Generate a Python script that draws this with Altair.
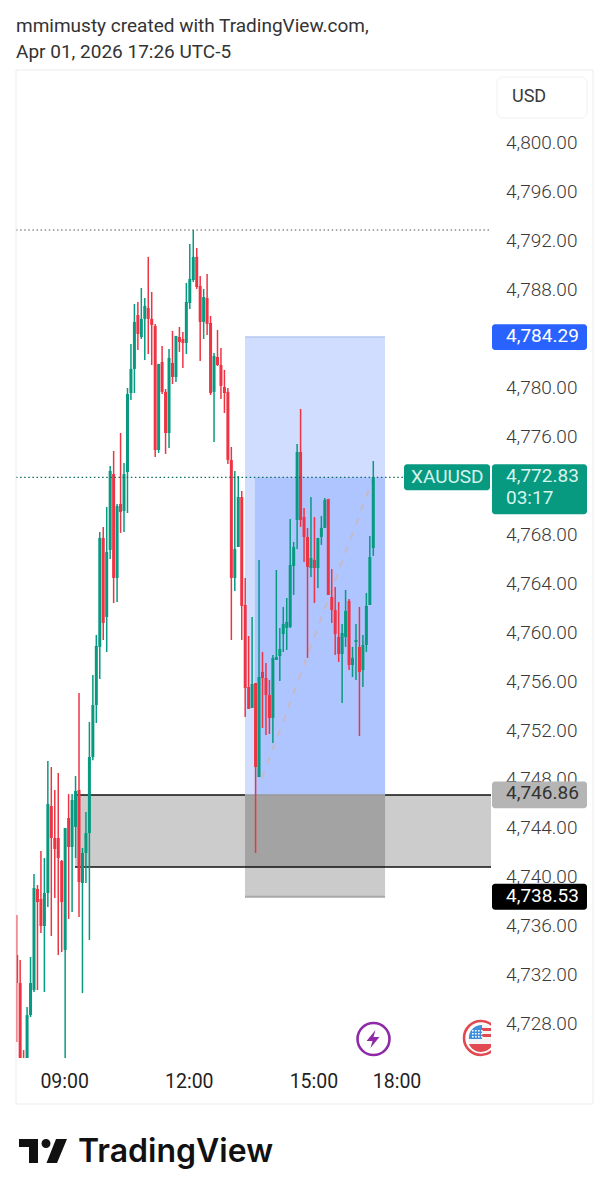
import json
import altair as alt
import pandas as pd

# --- candle values (price) ---
opens = [4733.77,4731.48,4725.2,4725.0,4728.86,4730.91,4739.17,4738.35,4736.14,4738.84,
4745.95,4743.34,4743.34,4741.46,4734.18,4744.97,4742.60,4744.24,4747.26,4739.66,
4742.11,4743.75,4749.96,4754.21,4758.96,4767.87,4761.41,4766.89,4773.10,4764.60,
4770.65,4770.08,4773.26,4779.72,4781.69,4786.10,4784.30,4785.78,4786.67,4785.78,
4785.20,4775.06,4782.26,4779.81,4776.45,4782.18,4781.03,4784.30,4784.14,4783.81,
4787.08,4788.96,4790.85,4788.47,4785.53,4787.49,4785.45,4779.81,4782.67,4782.01,
4780.21,4779.81,4774.25,4764.60,4767.13,4771.22,4762.39,4755.68,4753.97,4756.01,
4748.32,4756.91,4756.42,4755.03,4753.15,4757.89,4758.22,4760.02,4760.51,4760.59,
4765.58,4769.34,4774.90,4769.58,4767.95,4765.41,4766.07,4765.41,4767.95,4768.69,
4771.06,4763.04,4761.98,4759.77,4758.38,4759.77,4762.72,4757.48,4759.36,4758.96,
4757.07,4759.12,4762.39,4767.05]
highs = [4737.04,4733.36,4726.0,4729.52,4733.61,4740.39,4739.49,4742.27,4741.70,4749.63,
4749.14,4747.26,4748.65,4741.54,4744.15,4746.93,4746.93,4748.41,4755.19,4742.52,
4745.46,4752.82,4756.67,4759.94,4768.36,4768.77,4770.40,4773.76,4774.98,4770.65,
4776.45,4774.00,4780.13,4783.73,4787.00,4787.17,4788.31,4787.49,4790.85,4787.98,
4785.37,4782.10,4783.57,4780.05,4783.32,4784.79,4784.39,4785.12,4784.71,4788.72,
4791.91,4793.05,4791.58,4789.29,4788.23,4789.46,4786.02,4783.00,4784.88,4783.40,
4781.61,4780.13,4775.31,4773.35,4772.94,4771.71,4764.60,4759.85,4761.41,4756.01,
4766.07,4758.55,4757.65,4756.26,4758.30,4765.25,4760.51,4762.23,4762.96,4769.42,
4767.54,4775.55,4778.42,4770.32,4768.69,4771.22,4769.58,4767.87,4769.67,4771.14,
4771.06,4765.33,4763.86,4762.63,4760.84,4763.62,4762.88,4758.96,4760.84,4762.23,
4759.94,4763.37,4768.03,4774.16]
lows = [4726.66,4725.35,4725.0,4725.0,4728.70,4730.74,4730.91,4735.57,4730.74,4737.69,
4735.32,4738.43,4733.77,4734.01,4725.0,4736.71,4737.29,4741.70,4736.88,4730.66,
4739.66,4735.00,4749.70,4752.74,4756.34,4759.53,4758.55,4766.15,4762.55,4762.63,
4768.28,4768.36,4769.91,4779.15,4779.72,4783.24,4784.14,4782.42,4782.91,4782.01,
4774.49,4774.82,4779.64,4774.74,4775.23,4780.46,4780.62,4783.08,4781.77,4782.91,
4786.59,4788.80,4788.23,4782.34,4784.14,4784.47,4779.56,4775.72,4781.93,4779.23,
4778.09,4773.92,4759.53,4763.53,4767.13,4759.53,4753.23,4753.89,4753.97,4742.11,
4748.32,4752.33,4751.76,4751.84,4751.10,4757.89,4756.17,4758.55,4758.71,4760.51,
4763.21,4766.97,4768.77,4765.91,4758.06,4764.68,4762.55,4763.78,4767.30,4768.69,
4763.21,4760.92,4758.30,4757.73,4754.38,4758.96,4757.07,4756.50,4756.26,4751.68,
4755.68,4758.55,4762.39,4766.40]
closes = [4731.48,4725.35,4725.0,4728.86,4731.48,4739.25,4738.10,4736.14,4738.84,4746.12,
4743.34,4742.44,4741.70,4738.10,4744.15,4742.60,4746.44,4747.18,4739.74,4742.11,
4743.75,4749.96,4754.21,4759.04,4767.87,4760.92,4766.72,4773.35,4764.60,4770.48,
4769.99,4773.10,4779.64,4781.69,4785.53,4784.55,4785.78,4786.84,4785.78,4785.28,
4775.06,4782.10,4779.81,4776.45,4782.59,4781.03,4784.39,4783.89,4783.81,4787.17,
4789.05,4790.85,4788.39,4785.53,4787.57,4785.37,4779.72,4782.75,4782.01,4780.30,
4779.72,4774.25,4764.60,4766.97,4771.22,4762.31,4755.60,4753.89,4755.93,4749.14,
4756.50,4756.42,4755.03,4753.15,4758.06,4758.14,4758.79,4760.84,4761.00,4765.66,
4767.13,4774.90,4769.34,4767.95,4765.50,4766.23,4765.41,4767.87,4768.69,4770.97,
4763.21,4761.98,4760.02,4758.38,4760.10,4761.90,4757.48,4758.06,4759.53,4756.91,
4759.12,4762.31,4766.31,4772.83]

y_ticks = [4728, 4732, 4736, 4740, 4744, 4748, 4752, 4756, 4760, 4764, 4768, 4776, 4780, 4788, 4792, 4796, 4800]
x_tick_slots = [14, 50, 86, 110]
x_tick_labels = ["09:00", "12:00", "15:00", "18:00"]

entry_top = 4784.29
last_price = 4772.83
entry_price = 4746.86
zone_low = 4740.96
stop_price = 4738.53
day_high = 4793.05
slot_a, slot_b, slot_c = 65.94, 68.8, 106.4
zone_start = 16.84
diagonal_slots = [70.9, 103]
diagonal_prices = [4748.24, 4772.85]

GREEN = "#089981"
RED = "#ee3444"
X_DOMAIN = [-0.2, 137]
Y_DOMAIN = [4725.35, 4806.13]

xs = alt.Scale(domain=X_DOMAIN, nice=False, zero=False, padding=0)
ys = alt.Scale(domain=Y_DOMAIN, nice=False, zero=False, padding=0)
BLANK = alt.Data(values=[{}])

axis_y = alt.Axis(values=y_ticks, orient="right", format=",.2f", grid=False, ticks=False, domain=False,
                  labelFont="Roboto", labelFontSize=19, labelColor="#3a3a3a", labelFontWeight=300,
                  labelPadding=14.5, labelOffset=-2, labelAlign="left", title=None)
label_map = json.dumps({str(k): v for k, v in zip(x_tick_slots, x_tick_labels)})
axis_x = alt.Axis(values=x_tick_slots, labelExpr=f"{label_map}[datum.value]", grid=False, ticks=False,
                  domain=False, labelFont="Roboto", labelFontSize=19.5, labelColor="#1f1f1f",
                  labelFontWeight=400, labelPadding=14.5, labelOffset=-1, labelAngle=0, title=None)


def X(f):
    return alt.X(f, type="quantitative", scale=xs, axis=axis_x, title=None)


def Y(f):
    return alt.Y(f, type="quantitative", scale=ys, axis=axis_y, title=None)


def band(a, b, top, bottom, color):
    d = pd.DataFrame([{"a": a, "b": b, "t": top, "u": bottom}])
    return alt.Chart(d).mark_rect(color=color, clip=True).encode(
        x=X("a"), x2="b", y=Y("t"), y2="u")


def hline(a, b, price, color, width=1.0, dash=None):
    kw = {"strokeDash": dash} if dash else {}
    d = pd.DataFrame([{"a": a, "b": b, "p": price}])
    return alt.Chart(d).mark_rule(color=color, strokeWidth=width, clip=True, **kw).encode(
        x=X("a"), x2="b", y=Y("p"))


def txt(label, px, py, size=18, color="#3a3a3a", weight=400, font="Roboto", align="left"):
    return alt.Chart(BLANK).mark_text(
        font=font, fontSize=size, color=color, fontWeight=weight, align=align, baseline="middle"
    ).encode(x=alt.value(px - 16), y=alt.value(py - 70), text=alt.value(label))


def tag(x0, x1, top, bottom, color):
    d = pd.DataFrame([{"t": top, "u": bottom}])
    return alt.Chart(d).mark_rect(color=color, cornerRadius=3).encode(
        x=alt.value(x0 - 16), x2=alt.value(x1 - 16), y=Y("t"), y2="u")


def tag_text(label, px, price, color, dy=0, size=19, weight=400):
    d = pd.DataFrame([{"p": price, "l": label}])
    return alt.Chart(d).mark_text(
        font="Roboto", fontSize=size, color=color, fontWeight=weight, align="left",
        baseline="middle", dy=dy
    ).encode(x=alt.value(px - 16), y=Y("p"), text="l:N")


def icon(path, px, py, fill=None, stroke=None, sw=0, clip=True):
    kw = dict(shape=path, size=4, opacity=1, clip=clip, strokeWidth=sw)
    if fill:
        kw.update(filled=True, fill=fill, stroke=stroke or "transparent")
    else:
        kw.update(filled=False, stroke=stroke, fill="transparent")
    return alt.Chart(BLANK).mark_point(**kw).encode(
        x=alt.value(px - 16), y=alt.value(py - 70))


def disc(r):
    return f"M{-r},0A{r},{r},0,1,1,{r},0A{r},{r},0,1,1,{-r},0Z"


candles = pd.DataFrame({"i": range(len(opens)), "o": opens, "h": highs, "l": lows, "c": closes})
candles["dir"] = ["up" if c >= o else "down" for o, c in zip(opens, closes)]
colour = alt.Color("dir:N", scale=alt.Scale(domain=["up", "down"], range=[GREEN, RED]), legend=None)

wicks = alt.Chart(candles).mark_rule(strokeWidth=1.5, clip=True).encode(
    x=X("i"), y=Y("l"), y2="h:Q", color=colour)
bodies = alt.Chart(candles).mark_bar(size=3, clip=True).encode(
    x=X("i"), y=Y("o"), y2="c:Q", color=colour)

diag = pd.DataFrame({"i": diagonal_slots, "p": diagonal_prices})
diagonal = alt.Chart(diag).mark_line(color="#c7b9c6", strokeWidth=2, strokeDash=[7, 8], clip=True).encode(
    x=X("i"), y=Y("p"))

usd_box = alt.Chart(BLANK).mark_rect(fill="white", stroke="#f0f0f0", strokeWidth=1, cornerRadius=6).encode(
    x=alt.value(497 - 16), x2=alt.value(587 - 16), y=alt.value(77 - 70), y2=alt.value(118 - 70))

canton_dots = "".join(f"M{x},{y}h1.6v1.6h-1.6Z" for x in (-9, -6, -3, 0) for y in (-8, -5, -2))
flag_stripes = "M1,-10h9v3h-9ZM1,-4h11v3h-11ZM-12,6h24A13,13,0,0,1,-12,6Z"
logo_mark = ("M19,1139H38V1163H29V1147H19Z M56,1139H67L57,1163H46.5Z "
             "M41.5,1143.5A4.5,4.5,0,1,1,50.5,1143.5A4.5,4.5,0,1,1,41.5,1143.5Z")

layers = [
    band(slot_a, slot_c, entry_top, entry_price, "#d0ddfe"),
    band(slot_b, slot_c, last_price, entry_price, "#aec5ff"),
    band(zone_start, X_DOMAIN[1], entry_price, zone_low, "#cccccc"),
    band(slot_a, slot_c, entry_price, stop_price, "#cbcbcb"),
    band(slot_a, slot_c, entry_price, zone_low, "#a3a3a3"),
    hline(slot_a, slot_c, entry_top, "#b6c9f2", 1.5),
    hline(slot_a, slot_c, stop_price, "#a8a8a8", 2),
    hline(slot_a, slot_c, entry_price, "#999999", 1.5),
    hline(zone_start, slot_a, entry_price, "#111111", 1.5),
    hline(slot_c, X_DOMAIN[1], entry_price, "#111111", 1.5),
    hline(zone_start, X_DOMAIN[1], zone_low, "#111111", 1.5),
    diagonal,
    wicks,
    bodies,
    hline(X_DOMAIN[0], X_DOMAIN[1], day_high, "#555555", 1.2, [1.5, 2.6]),
    hline(X_DOMAIN[0], 111.8, last_price, "#0c6e62", 1.2, [1.5, 2.6]),
    tag(492, 587, entry_top + 1.06, entry_top - 1.06, "#2962ff"),
    tag_text("4,784.29", 506, entry_top, "#ffffff", dy=-1),
    tag(404, 490, last_price + 1.06, last_price - 1.06, GREEN),
    tag_text("XAUUSD", 411, last_price, "#d5f5ec", dy=0),
    tag(492, 587, last_price + 1.06, last_price - 3.03, GREEN),
    tag_text("4,772.83", 506, last_price, "#d5f5ec", dy=-1),
    tag_text("03:17", 506, last_price, "#d5f5ec", dy=21),
    tag(492, 587, entry_price + 1.1, entry_price - 1.1, "#b5b5b5"),
    tag_text("4,746.86", 506, entry_price, "#333333", dy=-2),
    tag(492, 587, stop_price + 1.06, stop_price - 1.06, "#000000"),
    tag_text("4,738.53", 506, stop_price, "#ffffff", dy=-1),
    usd_box,
    txt("USD", 512, 97, size=18),
    txt("mmimusty created with TradingView.com,", 16, 26, size=19, color="#333333"),
    txt("Apr 01, 2026 17:26 UTC-5", 16, 52, size=19, color="#333333"),
    icon(disc(16), 373.5, 1039, stroke="#8e2aa8", sw=2.6),
    icon("M2,-9L-7,2L-1,2L-3,9L6,-2L0,-2Z", 373.5, 1039, fill="#8e2aa8"),
    icon(disc(17), 481, 1038, stroke="#e04a50", sw=2.6),
    icon(disc(13), 481, 1038, fill="#f4f4f4"),
    icon(flag_stripes, 481, 1038, fill="#e04a50"),
    icon("M1,-13A13,13,0,0,0,-12,-2L-12,1H1Z", 481, 1038, fill="#3f8fdc"),
    icon(canton_dots, 481, 1038, fill="#ffffff"),
    icon(logo_mark, 0, 0, fill="#111111", clip=False),
    txt("TradingView", 78, 1152, size=32, color="#111111", weight=600, font="Inter"),
    alt.Chart(BLANK).mark_rect(fill="transparent", stroke="#ececec", strokeWidth=1).encode(
        x=alt.value(0), x2=alt.value(577), y=alt.value(0), y2=alt.value(1034)),
]

chart = alt.layer(*layers).properties(
    width=475, height=988,
    padding={"left": 8, "top": 62, "right": 110, "bottom": 135},
    autosize=alt.AutoSizeParams(type="none"),
    background="white",
).configure_view(stroke=None)

chart.save("out.html", embed_options={"renderer": "svg", "actions": False})
